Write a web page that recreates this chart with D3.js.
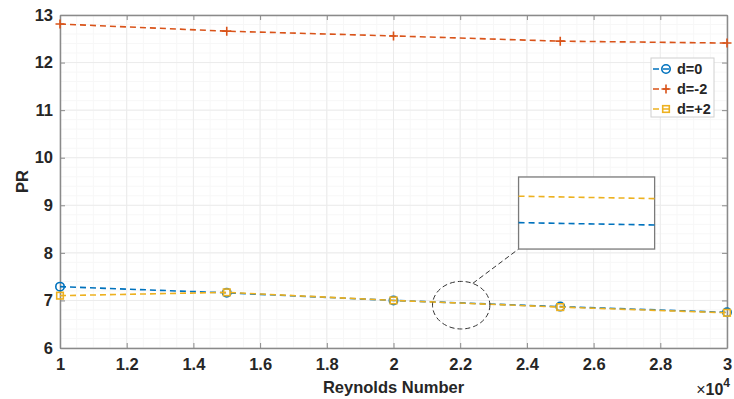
<!DOCTYPE html>
<html>
<head>
<meta charset="utf-8">
<script src="https://cdn.jsdelivr.net/npm/d3@7/dist/d3.min.js"></script>
<style>
  body { margin: 0; background: #fff; }
  text { font-family: "Liberation Sans", Arial, sans-serif; font-weight: bold; fill: #262626; }
</style>
</head>
<body>
<div id="chart"></div>
<script>
// data (Re in units of 1e4)
const reynolds = [1, 1.5, 2, 2.5, 3];
const prD0 = [7.29, 7.16, 7.00, 6.87, 6.75];
const prDm2 = [12.81, 12.66, 12.56, 12.45, 12.41];
const prDp2 = [7.10, 7.17, 7.00, 6.86, 6.74];
const xTicks = [1, 1.2, 1.4, 1.6, 1.8, 2, 2.2, 2.4, 2.6, 2.8, 3];
const yTicks = [6, 7, 8, 9, 10, 11, 12, 13];

// zoomed inset (annotation)
const insetRe = [2.15, 2.3];
const insetD0 = [6.951, 6.950];
const insetDp2 = [6.962, 6.961];

const width = 734, height = 399;
const margin = { top: 15, right: 7, bottom: 51, left: 60 };
const w = width - margin.left - margin.right,
    h = height - margin.top - margin.bottom;

const series = [
    { name: 'd=0', values: prD0, color: '#0072BD', marker: 'circle' },
    { name: 'd=-2', values: prDm2, color: '#D95319', marker: 'plus' },
    { name: 'd=+2', values: prDp2, color: '#EDB120', marker: 'square' }
];

const svg = d3.select('#chart').append('svg')
    .attr('width', width)
    .attr('height', height);

const g = svg.append('g')
    .attr('transform', `translate(${margin.left},${margin.top})`);

const x = d3.scaleLinear().domain([1, 3]).range([0, w]);
const y = d3.scaleLinear().domain([6, 13]).range([h, 0]);

// minor grid
g.append('g').selectAll('line')
    .data(d3.range(1, 3.0001, 0.05))
    .enter().append('line')
    .attr('x1', d => x(d)).attr('x2', d => x(d))
    .attr('y1', 0).attr('y2', h)
    .style('stroke', '#f7f7f7');
g.append('g').selectAll('line')
    .data(d3.range(6, 13.0001, 0.2))
    .enter().append('line')
    .attr('y1', d => y(d)).attr('y2', d => y(d))
    .attr('x1', 0).attr('x2', w)
    .style('stroke', '#f7f7f7');

// major grid
g.append('g').selectAll('line')
    .data(xTicks)
    .enter().append('line')
    .attr('x1', d => x(d)).attr('x2', d => x(d))
    .attr('y1', 0).attr('y2', h)
    .style('stroke', '#ebebeb');
g.append('g').selectAll('line')
    .data(yTicks)
    .enter().append('line')
    .attr('y1', d => y(d)).attr('y2', d => y(d))
    .attr('x1', 0).attr('x2', w)
    .style('stroke', '#ebebeb');

// axes (ticks inside, box on)
const axisColor = '#8a8a8a';
function styleAxis(sel) {
    sel.select('.domain').style('stroke', axisColor).style('stroke-width', 1.5);
    sel.selectAll('.tick line').style('stroke', axisColor).style('stroke-width', 1);
    sel.selectAll('.tick text').style('font-size', '16.5px').style('fill', '#262626');
}
const fmt = d3.format('~g');
g.append('g')
    .attr('transform', `translate(0,${h})`)
    .call(d3.axisBottom(x).tickValues(xTicks).tickSizeInner(-5).tickSizeOuter(0).tickPadding(10)
        .tickFormat(fmt))
    .call(styleAxis);
g.append('g')
    .call(d3.axisTop(x).tickValues(xTicks).tickSizeInner(-5).tickSizeOuter(0).tickFormat(''))
    .call(styleAxis);
g.append('g')
    .call(d3.axisLeft(y).tickValues(yTicks).tickSizeInner(-5).tickSizeOuter(0).tickPadding(7)
        .tickFormat(fmt))
    .call(styleAxis);
g.append('g')
    .attr('transform', `translate(${w},0)`)
    .call(d3.axisRight(y).tickValues(yTicks).tickSizeInner(-5).tickSizeOuter(0).tickFormat(''))
    .call(styleAxis);

// labels
svg.append('text')
    .attr('x', margin.left + w / 2).attr('y', 393)
    .attr('text-anchor', 'middle')
    .style('font-size', '16.5px')
    .text('Reynolds Number');
svg.append('text')
    .attr('transform', `translate(28,${margin.top + h / 2}) rotate(-90)`)
    .attr('text-anchor', 'middle')
    .style('font-size', '16.5px')
    .text('PR');
const expo = svg.append('text')
    .attr('x', 730).attr('y', 395)
    .attr('text-anchor', 'end')
    .style('font-size', '16px');
expo.append('tspan').style('font-weight', 'normal').text('×');
expo.append('tspan').text('10');
expo.append('tspan').attr('dy', -8).style('font-size', '12px').text('4');

// markers
function drawMarker(sel, type, color) {
    if (type === 'circle') {
        sel.append('circle').attr('r', 4.2)
            .style('fill', 'none').style('stroke', color).style('stroke-width', 1.6);
    } else if (type === 'square') {
        sel.append('rect').attr('x', -3.3).attr('y', -3.3).attr('width', 6.6).attr('height', 6.6)
            .style('fill', 'none').style('stroke', color).style('stroke-width', 1.6);
    } else {
        sel.append('path').attr('d', 'M-4.5,0H4.5M0,-4.5V4.5')
            .style('stroke', color).style('stroke-width', 1.6);
    }
}

const line = d3.line()
    .x((d, i) => x(reynolds[i]))
    .y(d => y(d));

series.forEach(s => {
    g.append('path')
        .datum(s.values)
        .attr('d', line)
        .style('fill', 'none')
        .style('stroke', s.color)
        .style('stroke-width', 1.6)
        .style('stroke-dasharray', '6,4');
    g.append('g').selectAll('g')
        .data(s.values)
        .enter().append('g')
        .attr('transform', (d, i) => `translate(${x(reynolds[i])},${y(d)})`)
        .each(function () { drawMarker(d3.select(this), s.marker, s.color); });
});

// zoom ellipse + connector + inset
const ell = { cx: 2.203, cy: 6.9, rx: 0.086, ry: 0.5 };
const inset = { x0: 2.375, x1: 2.783, y0: 8.08, y1: 9.595 };

g.append('ellipse')
    .attr('cx', x(ell.cx)).attr('cy', y(ell.cy))
    .attr('rx', x(ell.cx + ell.rx) - x(ell.cx))
    .attr('ry', y(ell.cy) - y(ell.cy + ell.ry))
    .style('fill', 'none').style('stroke', '#333')
    .style('stroke-width', 1).style('stroke-dasharray', '5,3');
g.append('line')
    .attr('x1', x(ell.cx + 0.035)).attr('y1', y(ell.cy + 0.46))
    .attr('x2', x(inset.x0)).attr('y2', y(inset.y0))
    .style('stroke', '#333').style('stroke-width', 1).style('stroke-dasharray', '5,3');

const ix = d3.scaleLinear().domain(insetRe).range([x(inset.x0), x(inset.x1)]);
const iy = d3.scaleLinear().domain([6.94, 6.97]).range([y(inset.y0), y(inset.y1)]);
g.append('rect')
    .attr('x', x(inset.x0)).attr('y', y(inset.y1))
    .attr('width', x(inset.x1) - x(inset.x0))
    .attr('height', y(inset.y0) - y(inset.y1))
    .style('fill', '#fff').style('stroke', '#7a7a7a').style('stroke-width', 1.3);
const iline = d3.line().x((d, i) => ix(insetRe[i])).y(d => iy(d));
[[insetDp2, '#EDB120'], [insetD0, '#0072BD']].forEach(([vals, c]) => {
    g.append('path').datum(vals).attr('d', iline)
        .style('fill', 'none').style('stroke', c)
        .style('stroke-width', 1.6).style('stroke-dasharray', '6,4');
});

// legend
const lg = svg.append('g').attr('transform', 'translate(651,58)');
lg.append('rect').attr('width', 63).attr('height', 59)
    .style('fill', '#fff').style('stroke', '#d0d0d0').style('stroke-width', 1);
series.forEach((s, i) => {
    const row = lg.append('g').attr('transform', `translate(0,${11 + i * 20})`);
    row.append('line').attr('x1', 2).attr('x2', 22)
        .style('stroke', s.color).style('stroke-width', 1.6).style('stroke-dasharray', '6,4');
    const m = row.append('g').attr('transform', 'translate(15,0)');
    drawMarker(m, s.marker, s.color);
    row.append('text').attr('x', 26).attr('y', 5)
        .style('font-size', '14.5px').text(s.name);
});
</script>
</body>
</html>
